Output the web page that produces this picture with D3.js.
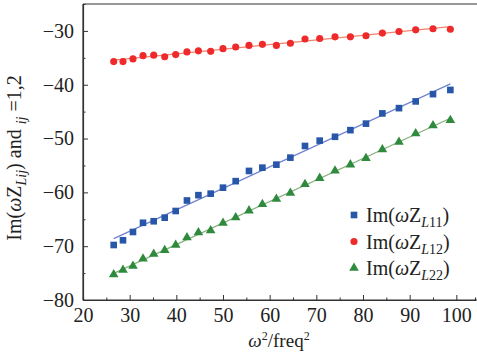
<!DOCTYPE html>
<html><head><meta charset="utf-8">
<script src="https://cdn.jsdelivr.net/npm/d3@7"></script>
<style>
body{margin:0;background:#fff;}
svg{display:block;font-family:"Liberation Serif","Times New Roman",serif;}
</style></head>
<body><svg id="c" width="477" height="355"></svg>
<script>
const xVals = [26.58,28.57,30.71,32.86,35.15,37.51,39.86,42.28,44.73,47.36,50.0,52.72,55.57,58.44,61.44,64.44,67.57,70.72,74.0,77.3,80.64,84.15,87.71,91.29,95.0,98.72];
const zL11 = [-69.78,-68.90,-67.36,-65.65,-65.37,-64.70,-63.46,-61.51,-60.52,-60.24,-59.13,-57.92,-56.02,-55.41,-54.85,-53.55,-51.38,-50.39,-49.67,-48.44,-47.23,-45.33,-44.35,-43.10,-41.75,-40.97];
const zL12 = [-35.7,-35.7,-35.2,-34.6,-34.5,-34.8,-34.4,-33.9,-33.7,-33.8,-33.3,-33.0,-32.7,-32.5,-32.7,-32.3,-31.5,-31.4,-31.1,-31.1,-30.9,-30.4,-30.1,-29.8,-29.6,-29.7];
const zL22 = [-75.26,-74.42,-73.68,-72.34,-71.45,-70.76,-69.78,-68.38,-67.45,-67.08,-65.69,-64.67,-63.40,-62.21,-61.23,-60.11,-58.48,-57.36,-55.99,-54.85,-53.66,-52.03,-50.63,-49.05,-47.57,-46.60];
const xTicks = [20,30,40,50,60,70,80,90,100];
const yTicks = [-80,-70,-60,-50,-40,-30];
const seriesNames = ["L11","L12","L22"];

const svg = d3.select("#c");
const x = d3.scaleLinear().domain([20,104]).range([83,475]);
const y = d3.scaleLinear().domain([-80,-25]).range([300,4]);

const series = [
  {name:"L11", vals:zL11, color:"#2856a8", line:"#6f82d2", sym:d3.symbolSquare, size:44},
  {name:"L12", vals:zL12, color:"#ee2a2a", line:"#f4826e", sym:d3.symbolCircle, size:40},
  {name:"L22", vals:zL22, color:"#2e8a3c", line:"#86b07a", sym:d3.symbolTriangle, size:40}
];

// axes
const fmt = d => d < 0 ? "\u2212" + Math.abs(d) : String(d);
const gx = svg.append("g").attr("transform","translate(0,300)")
  .call(d3.axisBottom(x).tickValues(xTicks).tickSize(-5).tickPadding(8).tickFormat(fmt));
const gxm = svg.append("g").attr("transform","translate(0,300)")
  .call(d3.axisBottom(x).tickValues(d3.range(25,105,10)).tickSize(-2.5).tickFormat(""));
const gy = svg.append("g").attr("transform","translate(83,0)")
  .call(d3.axisLeft(y).tickValues(yTicks).tickSize(-5).tickPadding(9).tickFormat(fmt));
const gym = svg.append("g").attr("transform","translate(83,0)")
  .call(d3.axisLeft(y).tickValues(d3.range(-75,-25,10)).tickSize(-2.5).tickFormat(""));
[gx,gxm,gy,gym].forEach(g=>{
  g.select(".domain").attr("stroke","#333").attr("stroke-width",1.2);
  g.selectAll(".tick line").attr("stroke","#333").attr("stroke-width",1);
  g.selectAll("text").attr("font-family","Liberation Serif").attr("font-size",20).attr("fill","#222");
});
gx.select(".domain").attr("d","M83,0H477");
gy.select(".domain").attr("d","M0,300V4");
// top border
svg.append("line").attr("x1",83).attr("x2",477).attr("y1",y(-25)).attr("y2",y(-25))
  .attr("stroke","#333").attr("stroke-width",1.2);

// fit lines + points
series.forEach(s=>{
  const n = xVals.length;
  const mx = d3.mean(xVals), my = d3.mean(s.vals);
  let sxy=0,sxx=0;
  for(let i=0;i<n;i++){sxy+=(xVals[i]-mx)*(s.vals[i]-my);sxx+=(xVals[i]-mx)**2;}
  const b = sxy/sxx, a = my-b*mx;
  const x0 = d3.min(xVals), x1 = d3.max(xVals);
  svg.append("line").attr("x1",x(x0)).attr("y1",y(a+b*x0)).attr("x2",x(x1)).attr("y2",y(a+b*x1))
    .attr("stroke",s.line).attr("stroke-width",1.2);
  svg.append("g").selectAll("path").data(xVals).join("path")
    .attr("transform",(d,i)=>`translate(${x(d)},${y(s.vals[i])})`)
    .attr("d",d3.symbol().type(s.sym).size(s.size))
    .attr("fill",s.color);
});

// legend
const lg = svg.append("g");
series.forEach((s,i)=>{
  const yy = 215 + i*26.5;
  lg.append("path").attr("transform",`translate(354,${yy})`)
    .attr("d",d3.symbol().type(s.sym).size(s.size)).attr("fill",s.color);
  const t = lg.append("text").attr("x",366).attr("y",yy+7).attr("font-size",20).attr("fill","#222");
  t.append("tspan").text("Im(");
  t.append("tspan").attr("font-style","italic").text("\u03c9");
  t.append("tspan").text("Z");
  t.append("tspan").attr("font-size",14).attr("font-style","italic").attr("dy",5).text("L");
  t.append("tspan").attr("font-size",14).text(s.name.slice(1));
  t.append("tspan").attr("dy",-5).text(")");
});

// x label
const xl = svg.append("text").attr("x",279).attr("y",347).attr("text-anchor","middle").attr("font-size",19).attr("fill","#222");
xl.append("tspan").attr("font-style","italic").text("\u03c9");
xl.append("tspan").attr("font-size",12).attr("dy",-7).text("2");
xl.append("tspan").attr("dy",7).text("/freq");
xl.append("tspan").attr("font-size",12).attr("dy",-7).text("2");

// y label
const yl = svg.append("text").attr("transform","translate(21,158) rotate(-90)")
  .attr("text-anchor","middle").attr("font-size",20).attr("fill","#222");
yl.append("tspan").text("Im(");
yl.append("tspan").attr("font-style","italic").text("\u03c9");
yl.append("tspan").text("Z");
yl.append("tspan").attr("font-size",14).attr("font-style","italic").attr("dy",5).text("Lij");
yl.append("tspan").attr("dy",-5).text(") and ");
yl.append("tspan").attr("font-size",14).attr("font-style","italic").attr("dy",5).text("ij");
yl.append("tspan").attr("dy",-5).text(" =1,2");
</script></body></html>
